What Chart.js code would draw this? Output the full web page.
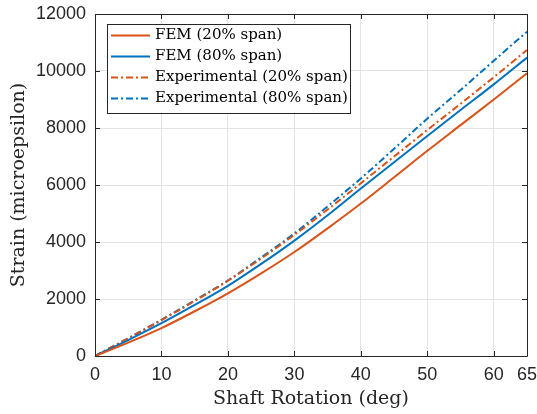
<!DOCTYPE html>
<html>
<head>
<meta charset="utf-8">
<script src="https://cdn.jsdelivr.net/npm/chart.js@4"></script>
<style>
html,body{margin:0;padding:0;background:#fff;}
#wrap{width:537px;height:414px;}
</style>
</head>
<body>
<div id="wrap"><canvas id="c" width="537" height="414"></canvas></div>
<script>
const rotation = [0, 5, 10, 15, 20, 25, 30, 35, 40, 45, 50, 55, 60, 65];
const fem20 = [0, 470, 980, 1570, 2200, 2900, 3650, 4480, 5350, 6270, 7200, 8100, 9000, 9920];
const fem80 = [0, 560, 1150, 1790, 2460, 3230, 4050, 4940, 5880, 6800, 7720, 8630, 9530, 10470];
const exp20 = [0, 620, 1260, 1930, 2640, 3420, 4250, 5140, 6060, 7000, 7930, 8850, 9780, 10740];
const exp80 = [0, 625, 1270, 1950, 2650, 3460, 4300, 5250, 6230, 7270, 8330, 9330, 10360, 11380];
const xTicks = [0, 10, 20, 30, 40, 50, 60, 65];
const yTicks = [0, 2000, 4000, 6000, 8000, 10000, 12000];
const seriesLabels = ['FEM (20% span)', 'FEM (80% span)', 'Experimental (20% span)', 'Experimental (80% span)'];

const ORANGE = '#D95319', BLUE = '#0072BD', AX = '#262626';
const DASH = [7, 3, 2, 3];

function pts(arr){ return rotation.map((x,i)=>({x:x,y:arr[i]})); }

const boxPlugin = {
  id:'box',
  afterDatasetsDraw(chart){
    const ctx = chart.ctx, a = chart.chartArea;
    const xs = chart.scales.x, ys = chart.scales.y;
    ctx.save();
    ctx.strokeStyle = AX; ctx.lineWidth = 1;
    ctx.beginPath();
    ctx.rect(Math.round(a.left)+0.5, Math.round(a.top)+0.5, Math.round(a.right-a.left), Math.round(a.bottom-a.top));
    ctx.stroke();
    const tl = 5;
    ctx.beginPath();
    xTicks.forEach(v=>{
      const px = Math.round(xs.getPixelForValue(v))+0.5;
      ctx.moveTo(px, a.bottom); ctx.lineTo(px, a.bottom-tl);
      ctx.moveTo(px, a.top); ctx.lineTo(px, a.top+tl);
    });
    yTicks.forEach(v=>{
      const py = Math.round(ys.getPixelForValue(v))+0.5;
      ctx.moveTo(a.left, py); ctx.lineTo(a.left+tl, py);
      ctx.moveTo(a.right, py); ctx.lineTo(a.right-tl, py);
    });
    ctx.stroke();
    // legend
    ctx.font = '15px "DejaVu Serif"';
    const ds = chart.data.datasets;
    let maxW = 0;
    ds.forEach(d=>{ maxW = Math.max(maxW, ctx.measureText(d.label).width); });
    const lx = a.left + 12, ly = a.top + 10, rowH = 21, sample = 39, gap = 5;
    const w = 4 + sample + gap + maxW + 2, h = ds.length*rowH + 5;
    ctx.fillStyle = '#fff';
    ctx.fillRect(lx, ly, w, h);
    ctx.strokeStyle = AX; ctx.lineWidth = 1;
    ctx.strokeRect(Math.round(lx)+0.5, Math.round(ly)+0.5, Math.round(w), Math.round(h));
    ds.forEach((d,i)=>{
      const cy = ly + 1 + rowH*i + rowH/2;
      ctx.strokeStyle = d.borderColor; ctx.lineWidth = 2;
      ctx.setLineDash(d.borderDash || []);
      ctx.beginPath(); ctx.moveTo(lx+4, cy); ctx.lineTo(lx+4+sample, cy); ctx.stroke();
      ctx.setLineDash([]);
      ctx.fillStyle = '#000'; ctx.textBaseline = 'middle'; ctx.textAlign = 'left';
      ctx.fillText(d.label, lx+4+sample+gap, cy);
    });
    ctx.restore();
  }
};

new Chart(document.getElementById('c'), {
  type:'line',
  data:{
    datasets:[
      {label:seriesLabels[0], data:pts(fem20), borderColor:ORANGE, borderWidth:2, pointRadius:0, cubicInterpolationMode:'monotone', fill:false},
      {label:seriesLabels[1], data:pts(fem80), borderColor:BLUE, borderWidth:2, pointRadius:0, cubicInterpolationMode:'monotone', fill:false},
      {label:seriesLabels[2], data:pts(exp20), borderColor:ORANGE, borderWidth:2, borderDash:DASH, pointRadius:0, cubicInterpolationMode:'monotone', fill:false},
      {label:seriesLabels[3], data:pts(exp80), borderColor:BLUE, borderWidth:2, borderDash:DASH, pointRadius:0, cubicInterpolationMode:'monotone', fill:false}
    ]
  },
  options:{
    responsive:false, animation:false,
    layout:{padding:{left:0,right:10,top:14,bottom:0}},
    plugins:{legend:{display:false}, tooltip:{enabled:false}},
    scales:{
      x:{type:'linear', min:0, max:65,
        afterBuildTicks(s){ s.ticks = xTicks.map(v=>({value:v})); },
        afterFit(s){ s.height = 58; s.paddingRight = 0; s.paddingLeft = 0; },
        grid:{color:'#e3e3e3', drawTicks:false, lineWidth:1},
        border:{display:false},
        ticks:{color:AX, padding:8, autoSkip:false, maxRotation:0, font:{family:'"Liberation Sans"', size:18}, callback:v=>String(v)},
        title:{display:true, text:'Shaft Rotation (deg)', color:AX, font:{family:'"DejaVu Serif"', size:19}, padding:{top:0,bottom:4}}
      },
      y:{type:'linear', min:0, max:12000,
        afterBuildTicks(s){ s.ticks = yTicks.map(v=>({value:v})); },
        afterFit(s){ s.width = 95; s.paddingTop = 0; s.paddingBottom = 0; },
        grid:{color:'#e3e3e3', drawTicks:false, lineWidth:1},
        border:{display:false},
        ticks:{color:AX, padding:9, font:{family:'"Liberation Sans"', size:18}, callback:v=>String(v)},
        title:{display:true, text:'Strain (microepsilon)', color:AX, font:{family:'"DejaVu Serif"', size:19}, padding:{top:8,bottom:0}}
      }
    }
  },
  plugins:[boxPlugin]
});
</script>
</body>
</html>
